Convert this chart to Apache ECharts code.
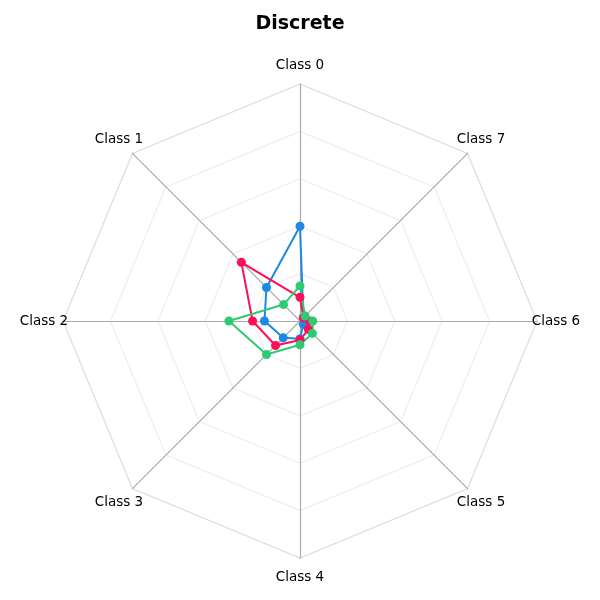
<!DOCTYPE html>
<html>
<head>
<meta charset="utf-8">
<script src="https://cdn.jsdelivr.net/npm/echarts@6/dist/echarts.min.js"></script>
<style>html,body{margin:0;padding:0;background:#fff}#c{width:600px;height:600px}</style>
</head>
<body>
<div id="c"></div>
<script>
var categories = ['Class 0','Class 1','Class 2','Class 3','Class 4','Class 5','Class 6','Class 7'];
var seriesNames = ['Series A','Series B','Series C'];
var blueValues  = [0.40, 0.20, 0.15, 0.10, 0.075, 0.02, 0.02, 0.02];
var redValues   = [0.10, 0.35, 0.20, 0.146, 0.08, 0.05, 0.042, 0.02];
var greenValues = [0.148, 0.098, 0.30, 0.20, 0.10, 0.074, 0.054, 0.03];
var axisMax = 1;
var colors = ['#1e88e5', '#ff0d57', '#2ecc71'];

var chart = echarts.init(document.getElementById('c'), null, {renderer:'canvas'});
function mk(name, vals, color){
  return {
    value: vals, name: name,
    symbol: 'circle', symbolSize: 9,
    lineStyle: {color: color, width: 2},
    itemStyle: {color: color}
  };
}
chart.setOption({
  animation: false,
  title: {
    text: 'Discrete', left: 'center', top: 10,
    textStyle: {fontFamily: 'DejaVu Sans', fontSize: 19, fontWeight: 'bold', color: '#000'}
  },
  radar: {
    center: [300, 321],
    radius: 237,
    shape: 'polygon',
    splitNumber: 5,
    startAngle: 90,
    nameGap: 19,
    indicator: categories.map(function(c){ return {name: c, max: axisMax, min: 0}; }),
    axisName: {color: '#000', fontFamily: 'DejaVu Sans', fontSize: 13.5, align: 'center', verticalAlign: 'middle'},
    axisLine: {lineStyle: {color: '#ababab', width: 1.2}},
    splitLine: {lineStyle: {color: ['#eeeeee','#eeeeee','#eeeeee','#eeeeee','#eeeeee','#dcdcdc'], width: 1.2}},
    splitArea: {show: false}
  },
  series: [{
    type: 'radar',
    data: [
      mk(seriesNames[0], blueValues, colors[0]),
      mk(seriesNames[1], redValues, colors[1]),
      mk(seriesNames[2], greenValues, colors[2])
    ]
  }]
});
</script>
</body>
</html>
